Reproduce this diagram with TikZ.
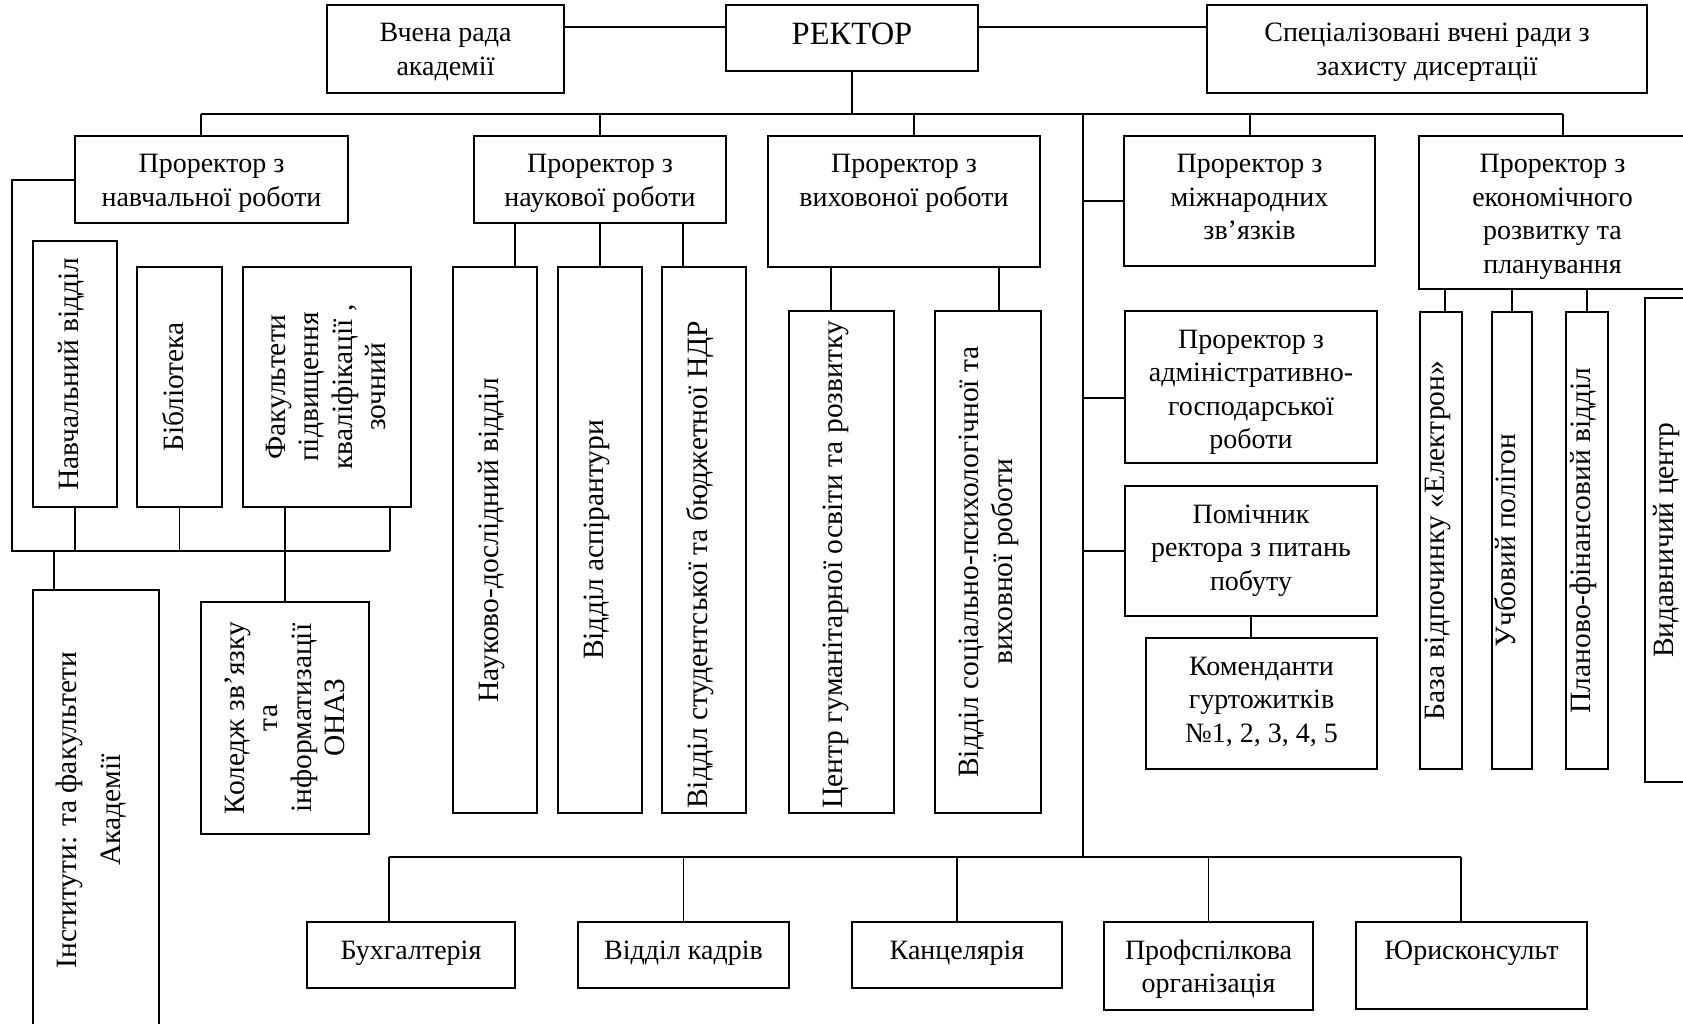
\documentclass[tikz,border=0pt]{standalone}
\usepackage{fontspec}
\setmainfont{Liberation Serif}
\tikzset{
 bx/.style={draw, line width=1.6pt, inner sep=0pt, outer sep=0pt, anchor=north west, rectangle},
 ht/.style={anchor=base, inner sep=0pt, font=\fontsize{28}{33.5}\selectfont},
 vt/.style={rotate=90, anchor=center, inner sep=0pt, font=\fontsize{29.5}{33.5}\selectfont},
 ln/.style={line width=1.6pt},
}
\newcommand\mkbox[5]{\node[bx, minimum width={#4pt-#2pt}, minimum height={#5pt-#3pt}] (#1) at (#2,#3) {};}
\newcommand\htext[2]{\node[ht] (#1t) at ([yshift=-37pt]#1.north) {\begin{tabular}[t]{@{}c@{}}#2\end{tabular}};}
\newcommand\vtext[3]{\node[vt] (#1t) at ([xshift=#2pt]#1.center) {\begin{tabular}{@{}c@{}}#3\end{tabular}};}
\begin{document}
\begin{tikzpicture}[x=1pt,y=-1pt]
\useasboundingbox (0,0) rectangle (1683,1024);
\clip (0,0) rectangle (1683,1024);
% top row
\mkbox{vr}{327}{5}{564}{93}
\mkbox{rek}{726}{5}{978}{71}
\mkbox{svr}{1207}{5}{1647}{93}
\htext{vr}{Вчена рада\\академії}
\node[ht, font=\fontsize{32.5}{36}\selectfont] (rekt) at ([yshift=-40pt]rek.north) {РЕКТОР};
\htext{svr}{Спеціалізовані вчені ради з\\захисту дисертації}
% second row
\mkbox{pnav}{75}{136}{348}{223}
\mkbox{pnauk}{474}{136}{726}{223}
\mkbox{pvyh}{768}{136}{1040}{267}
\mkbox{pmiz}{1124}{136}{1375}{266}
\mkbox{pek}{1419}{136}{1686}{289}
\htext{pnav}{Проректор з\\навчальної роботи}
\htext{pnauk}{Проректор з\\наукової роботи}
\htext{pvyh}{Проректор з\\виховоної роботи}
\htext{pmiz}{Проректор з\\міжнародних\\зв’язків}
\htext{pek}{Проректор з\\економічного\\розвитку та\\планування}
% left group
\mkbox{nv}{33}{241}{117}{507}
\mkbox{bib}{137}{267}{222}{507}
\mkbox{fak}{243}{267}{411}{507}
\mkbox{inst}{33}{590}{159}{1030}
\mkbox{kol}{201}{602}{369}{834}
\vtext{nv}{-3}{Навчальний відділ}
\vtext{bib}{-3}{Бібліотека}
\vtext{fak}{2}{Факультети\\підвищення\\кваліфікації ,\\зочний}
\vtext{inst}{-4}{Інститути: та факультети\\[10pt]Академії}
\vtext{kol}{3}{Коледж зв’язку\\та\\інформатизації\\ОНАЗ}
% science
\mkbox{nd}{453}{267}{537}{813}
\mkbox{asp}{558}{267}{642}{813}
\mkbox{ndr}{662}{267}{746}{813}
\vtext{nd}{-3}{Науково-дослідний відділ}
\vtext{asp}{-3}{Відділ аспірантури}
\node[vt] (ndrt) at ([xshift=-3pt,yshift=-25pt]ndr.center) {\begin{tabular}{@{}c@{}}Відділ студентської та бюджетної НДР\end{tabular}};
% education
\mkbox{cg}{789}{311}{894}{813}
\mkbox{vs}{935}{311}{1041}{813}
\node[vt] (cgt) at ([xshift=-6pt,yshift=-3pt]cg.center) {\begin{tabular}{@{}c@{}}Центр гуманітарної освіти та розвитку\end{tabular}};
\vtext{vs}{1}{Відділ соціально-психологічної та\\виховної роботи}
% right column
\mkbox{padm}{1125}{311}{1377}{463}
\mkbox{pom}{1125}{486}{1377}{616}
\mkbox{kom}{1146}{638}{1377}{769}
\htext{padm}{Проректор з\\адміністративно-\\господарської\\роботи}
\htext{pom}{Помічник\\ректора з питань\\побуту}
\htext{kom}{Коменданти\\гуртожитків\\№1, 2, 3, 4, 5}
% economics
\mkbox{ba}{1420}{312}{1462}{769}
\mkbox{ub}{1492}{312}{1532}{769}
\mkbox{pf}{1566}{312}{1608}{769}
\mkbox{vc}{1645}{298}{1695}{782}
\vtext{ba}{-3}{База відпочинку «Електрон»}
\vtext{ub}{-3}{Учбовий полігон}
\vtext{pf}{-3}{Планово-фінансовий відділ}
\vtext{vc}{-3}{Видавничий центр}
% bottom row
\mkbox{bux}{307}{922}{515}{988}
\mkbox{vk}{578}{922}{789}{988}
\mkbox{kan}{852}{922}{1062}{988}
\mkbox{prof}{1104}{922}{1313}{1010}
\mkbox{yur}{1356}{922}{1587}{1009}
\htext{bux}{Бухгалтерія}
\htext{vk}{Відділ кадрів}
\htext{kan}{Канцелярія}
\htext{prof}{Профспілкова\\організація}
\htext{yur}{Юрисконсульт}
% ---- connectors ----
\coordinate (ty) at (0,27);
\draw[ln] (vr.east |- ty) -- (rek.west |- ty);
\draw[ln] (rek.east |- ty) -- (svr.west |- ty);
\coordinate (tbL) at (201,114);
\coordinate (tbR) at (1563,114);
\coordinate (t2) at (600,114);
\coordinate (t3) at (914,114);
\coordinate (sp) at (1083,114);
\coordinate (t5) at (1250,114);
\draw[ln] (rek.south) -- (rek.south |- tbL);
\draw[ln] (tbL) -- (tbR);
\draw[ln] (tbL) -- (tbL |- pnav.north);
\draw[ln] (t2) -- (t2 |- pnauk.north);
\draw[ln] (t3) -- (t3 |- pvyh.north);
\draw[ln] (t5) -- (t5 |- pmiz.north);
\draw[ln] (tbR) -- (tbR |- pek.north);
% spine
\coordinate (spB) at (1083,857);
\draw[ln] (sp) -- (spB);
\coordinate (ya) at (0,398);
\draw[ln] (sp |- pmiz.west) -- (pmiz.west);
\draw[ln] (sp |- ya) -- (padm.west |- ya);
\draw[ln] (sp |- pom.west) -- (pom.west);
\draw[ln] (pom.south) -- (pom.south |- kom.north);
% left group
\coordinate (lc) at (12,180);
\coordinate (lb) at (12,551);
\coordinate (lbR) at (390,551);
\coordinate (li) at (54,551);
\draw[ln] (pnav.west |- lc) -- (lc) -- (lb) -- (lbR);
\draw[ln] (nv.south) -- (nv.south |- lb);
\draw[ln] (bib.south) -- (bib.south |- lb);
\draw[ln] (lbR) -- (lbR |- fak.south);
\draw[ln] (kol.north |- fak.south) -- (kol.north);
\draw[ln] (li) -- (li |- inst.north);
% science drops
\coordinate (n1) at (515,0);
\coordinate (n3) at (683,0);
\draw[ln] (n1 |- pnauk.south) -- (n1 |- nd.north);
\draw[ln] (asp.north |- pnauk.south) -- (asp.north);
\draw[ln] (n3 |- pnauk.south) -- (n3 |- ndr.north);
% education drops
\coordinate (v1) at (831,0);
\coordinate (v2) at (999,0);
\draw[ln] (v1 |- pvyh.south) -- (v1 |- cg.north);
\draw[ln] (v2 |- pvyh.south) -- (v2 |- vs.north);
% economics drops
\coordinate (e1) at (1445,0);
\draw[ln] (e1 |- pek.south) -- (e1 |- ba.north);
\draw[ln] (ub.north |- pek.south) -- (ub.north);
\draw[ln] (pf.north |- pek.south) -- (pf.north);
% bottom bus
\coordinate (bb1) at (389,857);
\coordinate (bb5) at (1461,857);
\draw[ln] (bb1) -- (bb5);
\draw[ln] (bb1) -- (bb1 |- bux.north);
\draw[ln] (vk.north |- bb1) -- (vk.north);
\draw[ln] (kan.north |- bb1) -- (kan.north);
\draw[ln] (prof.north |- bb1) -- (prof.north);
\draw[ln] (bb5) -- (bb5 |- yur.north);
\end{tikzpicture}
\end{document}
